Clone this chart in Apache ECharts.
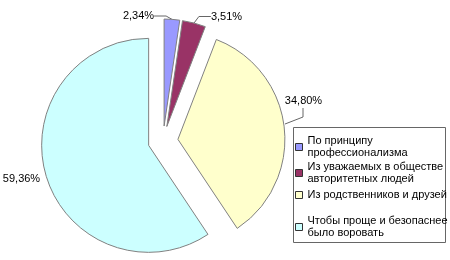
<!DOCTYPE html>
<html><head><meta charset="utf-8">
<script src="https://cdn.jsdelivr.net/npm/echarts@6/dist/echarts.min.js"></script>
<style>html,body{margin:0;padding:0;background:#fff}#c{width:450px;height:260px}</style>
</head><body><div id="c"></div>
<script>
const categories = [
  'По принципу\nпрофессионализма',
  'Из уважаемых в обществе\nавторитетных людей',
  'Из родственников и друзей',
  'Чтобы проще и безопаснее\nбыло воровать'
];
const values = [2.34, 3.51, 34.80, 59.36];
const colors = ['#9999FF', '#993366', '#FFFFCC', '#CCFFFF'];

// layout constants
const PIE_CENTER = [163, 141];
const PIE_RADIUS = 107;
const EXPLODE = 15;
const labelCenters = [[138.5, 16], [226.5, 16.5], [303.5, 101], [21.5, 179]];
const showAutoGuide = [true, true, false, false];
const manualGuide = [[285, 124], [303, 117], [303, 108]];
const legendTops = [129, 155, 189, 209];
const FONT = '"Liberation Sans", Arial, sans-serif';

const chart = echarts.init(document.getElementById('c'), null, {renderer: 'canvas'});

const total = values.reduce((a, b) => a + b, 0);
let acc = 0;
const offsets = values.map(v => {
  const mid = (acc + v / 2) / total * 2 * Math.PI;
  acc += v;
  return [EXPLODE * Math.sin(mid), -EXPLODE * Math.cos(mid)];
});

const legends = categories.map((name, i) => {
  const twoLine = name.indexOf('\n') >= 0;
  return {
    left: 295, top: legendTops[i], padding: 0, orient: 'vertical',
    itemWidth: 7, itemHeight: 7, icon: 'rect', selectedMode: false,
    itemStyle: {color: colors[i], borderColor: '#333', borderWidth: 1},
    textStyle: {fontFamily: FONT, fontSize: 11, color: '#000', lineHeight: 12,
      padding: twoLine ? [12, 0, 0, 0] : 0},
    data: [{name: name}]
  };
});

const series = values.map((_, i) => ({
  type: 'pie',
  center: [PIE_CENTER[0] + offsets[i][0], PIE_CENTER[1] + offsets[i][1]],
  radius: PIE_RADIUS,
  startAngle: 90,
  clockwise: true,
  avoidLabelOverlap: false,
  emphasis: {disabled: true},
  label: {
    show: false, position: 'outside', fontFamily: FONT, fontSize: 11, color: '#000',
    formatter: p => p.value.toFixed(2).replace('.', ',') + '%'
  },
  labelLine: {show: false, length: 8, length2: 12, lineStyle: {color: '#666', width: 1}},
  labelLayout: function (params) {
    const c = labelCenters[params.dataIndex];
    return {x: c[0], y: c[1], align: 'center', verticalAlign: 'middle'};
  },
  data: values.map((v, j) => ({
    name: categories[j], value: v,
    itemStyle: j === i
      ? {color: colors[j], borderColor: '#808080', borderWidth: 1}
      : {color: 'rgba(0,0,0,0)', borderWidth: 0},
    label: {show: j === i},
    labelLine: {show: j === i && showAutoGuide[j]}
  }))
}));

chart.setOption({
  animation: false,
  legend: legends,
  graphic: [{
    type: 'rect', shape: {x: 293.5, y: 127.5, width: 152, height: 115},
    style: {fill: 'none', stroke: '#666', lineWidth: 1}, z: 0
  }, {
    type: 'polyline', shape: {points: manualGuide},
    style: {fill: 'none', stroke: '#666', lineWidth: 1}, z: 10
  }],
  series: series
});
</script></body></html>
